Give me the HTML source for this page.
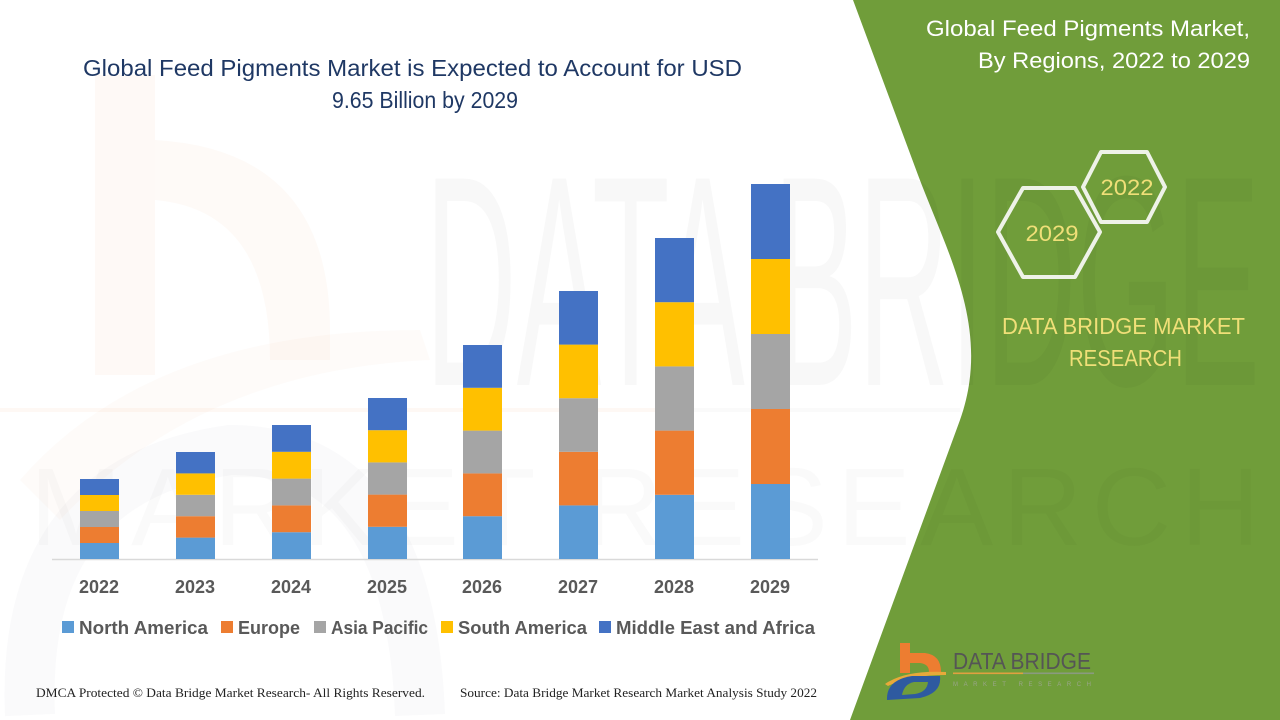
<!DOCTYPE html>
<html>
<head>
<meta charset="utf-8">
<style>
html,body{margin:0;padding:0;background:#fff;width:1280px;height:720px;overflow:hidden;}
svg{display:block;}
</style>
</head>
<body>
<svg width="1280" height="720" viewBox="0 0 1280 720" xmlns="http://www.w3.org/2000/svg">
  <rect x="0" y="0" width="1280" height="720" fill="#ffffff"/>

  <!-- faint left logo watermark -->
  <rect x="95" y="75" width="60" height="300" fill="#ed7d31" opacity="0.045"/>
  <path d="M155,140 Q330,150 330,330 L330,360 L270,360 Q270,210 155,200 Z" fill="#ed7d31" opacity="0.04"/>
  <path d="M20,480 Q150,330 420,330 L430,360 Q200,370 60,520 Z" fill="#ed7d31" opacity="0.03"/>
  <path d="M30,715 Q20,480 230,450 Q410,450 420,715" fill="none" stroke="#1f3864" stroke-width="50" opacity="0.025"/>

  <!-- green panel -->
  <path d="M853,0 L1280,0 L1280,720 L850,720 L960,420 C992,330 948,255 918,175 Z" fill="#709d3a"/>

  <!-- big watermark text -->
  <text x="425" y="385" font-family="Liberation Sans, sans-serif" font-size="300" fill="#000" opacity="0.022" textLength="835" lengthAdjust="spacingAndGlyphs">DATA BRIDGE</text>
  <text x="30" y="545" font-family="Liberation Sans, sans-serif" font-size="110" fill="#000" opacity="0.015" textLength="1230" lengthAdjust="spacing">MARKET RESEARCH</text>
  <rect x="0" y="408" width="680" height="4" fill="#ed7d31" opacity="0.05"/>
  <rect x="680" y="408" width="280" height="4" fill="#000" opacity="0.02"/>

  <!-- chart title -->
  <text x="83" y="76" font-family="Liberation Sans, sans-serif" font-size="23" fill="#1f3864" textLength="659" lengthAdjust="spacingAndGlyphs">Global Feed Pigments Market is Expected to Account for USD</text>
  <text x="332" y="108" font-family="Liberation Sans, sans-serif" font-size="23" fill="#1f3864" textLength="186" lengthAdjust="spacingAndGlyphs">9.65 Billion by 2029</text>

  <!-- axis -->
  <line x1="52" y1="559.5" x2="818" y2="559.5" stroke="#d9d9d9" stroke-width="1.5"/>

  <!-- bars -->
  <g>
    <rect x="80" y="543" width="39" height="16" fill="#5b9bd5"/>
    <rect x="80" y="527" width="39" height="16" fill="#ed7d31"/>
    <rect x="80" y="511" width="39" height="16" fill="#a5a5a5"/>
    <rect x="80" y="495" width="39" height="16" fill="#ffc000"/>
    <rect x="80" y="479" width="39" height="16" fill="#4472c4"/>

    <rect x="176" y="537.6" width="39" height="21.4" fill="#5b9bd5"/>
    <rect x="176" y="516.2" width="39" height="21.4" fill="#ed7d31"/>
    <rect x="176" y="494.8" width="39" height="21.4" fill="#a5a5a5"/>
    <rect x="176" y="473.4" width="39" height="21.4" fill="#ffc000"/>
    <rect x="176" y="452" width="39" height="21.4" fill="#4472c4"/>

    <rect x="272" y="532.2" width="39" height="26.8" fill="#5b9bd5"/>
    <rect x="272" y="505.4" width="39" height="26.8" fill="#ed7d31"/>
    <rect x="272" y="478.6" width="39" height="26.8" fill="#a5a5a5"/>
    <rect x="272" y="451.8" width="39" height="26.8" fill="#ffc000"/>
    <rect x="272" y="425" width="39" height="26.8" fill="#4472c4"/>

    <rect x="368" y="526.8" width="39" height="32.2" fill="#5b9bd5"/>
    <rect x="368" y="494.6" width="39" height="32.2" fill="#ed7d31"/>
    <rect x="368" y="462.4" width="39" height="32.2" fill="#a5a5a5"/>
    <rect x="368" y="430.2" width="39" height="32.2" fill="#ffc000"/>
    <rect x="368" y="398" width="39" height="32.2" fill="#4472c4"/>

    <rect x="463" y="516.2" width="39" height="42.8" fill="#5b9bd5"/>
    <rect x="463" y="473.4" width="39" height="42.8" fill="#ed7d31"/>
    <rect x="463" y="430.6" width="39" height="42.8" fill="#a5a5a5"/>
    <rect x="463" y="387.8" width="39" height="42.8" fill="#ffc000"/>
    <rect x="463" y="345" width="39" height="42.8" fill="#4472c4"/>

    <rect x="559" y="505.4" width="39" height="53.6" fill="#5b9bd5"/>
    <rect x="559" y="451.8" width="39" height="53.6" fill="#ed7d31"/>
    <rect x="559" y="398.2" width="39" height="53.6" fill="#a5a5a5"/>
    <rect x="559" y="344.6" width="39" height="53.6" fill="#ffc000"/>
    <rect x="559" y="291" width="39" height="53.6" fill="#4472c4"/>

    <rect x="655" y="494.8" width="39" height="64.2" fill="#5b9bd5"/>
    <rect x="655" y="430.6" width="39" height="64.2" fill="#ed7d31"/>
    <rect x="655" y="366.4" width="39" height="64.2" fill="#a5a5a5"/>
    <rect x="655" y="302.2" width="39" height="64.2" fill="#ffc000"/>
    <rect x="655" y="238" width="39" height="64.2" fill="#4472c4"/>

    <rect x="751" y="484" width="39" height="75" fill="#5b9bd5"/>
    <rect x="751" y="409" width="39" height="75" fill="#ed7d31"/>
    <rect x="751" y="334" width="39" height="75" fill="#a5a5a5"/>
    <rect x="751" y="259" width="39" height="75" fill="#ffc000"/>
    <rect x="751" y="184" width="39" height="75" fill="#4472c4"/>
  </g>

  <!-- year labels -->
  <g font-family="Liberation Sans, sans-serif" font-size="18" font-weight="bold" fill="#595959" text-anchor="middle">
    <text x="99" y="593">2022</text>
    <text x="195" y="593">2023</text>
    <text x="291" y="593">2024</text>
    <text x="387" y="593">2025</text>
    <text x="482" y="593">2026</text>
    <text x="578" y="593">2027</text>
    <text x="674" y="593">2028</text>
    <text x="770" y="593">2029</text>
  </g>

  <!-- legend -->
  <g font-family="Liberation Sans, sans-serif" font-size="18" font-weight="bold" fill="#595959">
    <rect x="62" y="621" width="12" height="12" fill="#5b9bd5"/>
    <text x="79" y="634" textLength="129" lengthAdjust="spacingAndGlyphs">North America</text>
    <rect x="221" y="621" width="12" height="12" fill="#ed7d31"/>
    <text x="238" y="634" textLength="62" lengthAdjust="spacingAndGlyphs">Europe</text>
    <rect x="314" y="621" width="12" height="12" fill="#a5a5a5"/>
    <text x="331" y="634" textLength="97" lengthAdjust="spacingAndGlyphs">Asia Pacific</text>
    <rect x="441" y="621" width="12" height="12" fill="#ffc000"/>
    <text x="458" y="634" textLength="129" lengthAdjust="spacingAndGlyphs">South America</text>
    <rect x="599" y="621" width="12" height="12" fill="#4472c4"/>
    <text x="616" y="634" textLength="199" lengthAdjust="spacingAndGlyphs">Middle East and Africa</text>
  </g>

  <!-- footer -->
  <text x="36" y="697" font-family="Liberation Serif, serif" font-size="13" fill="#222" textLength="389" lengthAdjust="spacingAndGlyphs">DMCA Protected © Data Bridge Market Research- All Rights Reserved.</text>
  <text x="460" y="697" font-family="Liberation Serif, serif" font-size="13" fill="#222" textLength="357" lengthAdjust="spacingAndGlyphs">Source: Data Bridge Market Research Market Analysis Study 2022</text>

  <!-- right panel title -->
  <g font-family="Liberation Sans, sans-serif" font-size="22" fill="#ffffff" text-anchor="end">
    <text x="1250" y="36" textLength="324" lengthAdjust="spacingAndGlyphs">Global Feed Pigments Market,</text>
    <text x="1250" y="68" textLength="272" lengthAdjust="spacingAndGlyphs">By Regions, 2022 to 2029</text>
  </g>

  <!-- hexagons -->
  <polygon points="998,232 1023,188 1075,188 1100,232 1075,277 1023,277" fill="none" stroke="#eef2e8" stroke-width="4" stroke-linejoin="round"/>
  <polygon points="1083,187 1101,152 1147,152 1165,187 1147,222 1101,222" fill="none" stroke="#eef2e8" stroke-width="4" stroke-linejoin="round"/>
  <g font-family="Liberation Sans, sans-serif" font-size="22" fill="#f0df78" text-anchor="middle">
    <text x="1052" y="241" textLength="53" lengthAdjust="spacingAndGlyphs">2029</text>
    <text x="1127" y="195" textLength="53" lengthAdjust="spacingAndGlyphs">2022</text>
  </g>

  <!-- DATA BRIDGE MARKET RESEARCH -->
  <g font-family="Liberation Sans, sans-serif" font-size="23" fill="#f0df78">
    <text x="1002" y="334" textLength="243" lengthAdjust="spacingAndGlyphs">DATA BRIDGE MARKET</text>
    <text x="1069" y="366" textLength="113" lengthAdjust="spacingAndGlyphs">RESEARCH</text>
  </g>

  <!-- bottom logo -->
  <g>
    <rect x="900" y="643" width="10" height="30" fill="#ed7d31"/>
    <path d="M905,653 L925,653 Q941,655 941,672 L929,672 Q929,664 920,663 L905,663 Z" fill="#ed7d31"/>
    <path d="M885,684 Q905,670 946,672 L946,675 Q910,675 888,686 Z" fill="#e8a93a"/>
    <path d="M887,700 Q886,680 912,676 L940,676 Q942,693 920,698 Z" fill="#2e5aa0"/>
    <path d="M902,695 Q904,684 914,682 L928,682 Q927,692 915,694 Z" fill="#709d3a"/>
  </g>
  <text x="953" y="669" font-family="Liberation Sans, sans-serif" font-size="23" fill="#555" textLength="138" lengthAdjust="spacingAndGlyphs">DATA BRIDGE</text>
  <rect x="953" y="672.5" width="70" height="1.6" fill="#e0a040"/>
  <rect x="1023" y="672.5" width="71" height="1.6" fill="#8a9a80"/>
  <text x="953" y="686" font-family="Liberation Sans, sans-serif" font-size="6" fill="#9aa58a" textLength="138" lengthAdjust="spacing">MARKET RESEARCH</text>
</svg>
</body>
</html>
